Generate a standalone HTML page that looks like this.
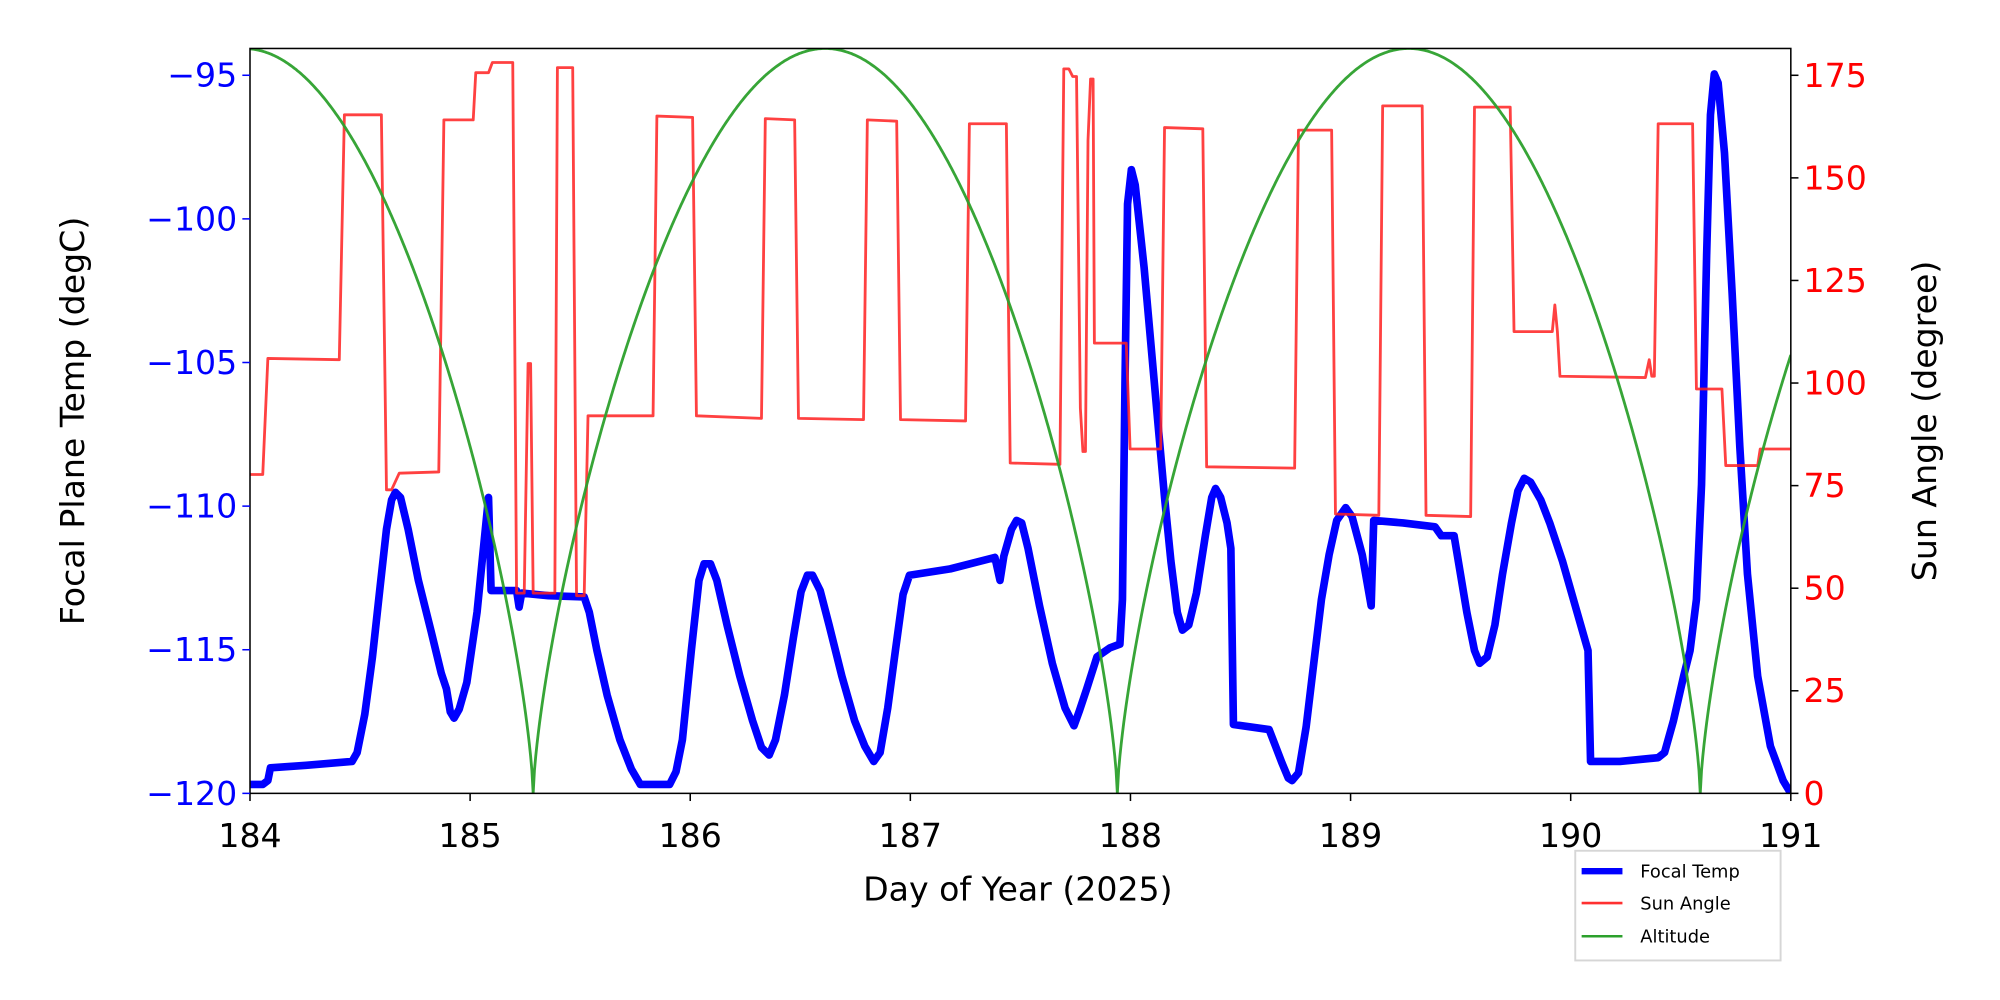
<!DOCTYPE html>
<html><head><meta charset="utf-8"><style>body{margin:0;background:#fff}svg{display:block}</style></head>
<body>
<svg id="s" xmlns="http://www.w3.org/2000/svg" width="2000" height="1000" viewBox="0 0 1568 784" font-family="'DejaVu Sans','Liberation Sans',sans-serif">
<rect width="1568" height="784" fill="#fff"/>
<defs><clipPath id="c"><rect x="196" y="38" width="1208" height="584"/></clipPath></defs>
<g clip-path="url(#c)">
<polyline fill="none" stroke="#0000ff" stroke-width="6" stroke-linejoin="round" stroke-linecap="round" points="196,615 206,615 210,612 212,602 240,600 276,597 280,590 286,560 292,515 298,460 303,415 307,392 310,386 314,390 320,415 328,455 338,495 346,528 350,540 353,558 356,563 360,556 366,535 374,480 380,420 383,390 385,463 405,463 407,476 409,465 430,467 458,468 462,480 468,510 476,545 486,580 495,603 502,615 525,615 530,605 535,580 542,510 548,455 552,442 557,442 562,455 570,490 580,530 590,565 597,586 603,592 608,580 615,545 622,500 628,464 633,451 637,451 643,463 650,490 660,530 670,565 678,585 685,597 690,590 696,555 702,510 708,466 713,451 745,446 780,437 784,455 787,436 793,415 797,408 801,410 806,430 815,475 825,520 835,555 842,569 846,558 852,540 860,515 870,508 878,505 880,470 882,300 884,160 887,133 890,145 897,210 905,300 913,390 918,440 923,480 927,494 932,490 938,465 945,420 950,390 953,383 957,390 962,410 965,430 967,568 995,572 1000,585 1005,598 1010,610 1013,612 1018,606 1024,570 1030,520 1036,470 1042,435 1048,408 1055,398 1060,405 1068,435 1075,475 1077,408 1100,410 1125,413 1130,420 1140,420 1145,450 1150,480 1156,510 1160,520 1166,515 1172,490 1178,450 1185,410 1190,385 1195,375 1200,378 1208,392 1215,410 1225,440 1235,475 1245,510 1247,597 1270,597 1300,594 1305,590 1312,565 1320,530 1325,510 1330,470 1334,380 1338,200 1341,90 1344,58 1347,65 1352,120 1358,230 1364,350 1370,450 1378,530 1388,585 1398,612 1404,622"/>
<polyline fill="none" stroke="#ff2020" stroke-opacity="0.85" stroke-width="2.2" stroke-linejoin="round" points="196,372 206,372 210,281 266,282 270,90 299,90 303,384 307,384 313,371 344,370 348,94 371,94 373,57 383,57 386,49 402,49 405,465 411,465 414,285 416,285 418,465 435,465 437,53 449,53 452,467 458,467 461,326 512,326 515,91 543,92 546,326 597,328 600,93 623,94 626,328 677,329 680,94 703,95 706,329 757,330 760,97 789,97 792,363 831,364 834,54 838,54 841,60 844,60 847,320 849,354 851,354 853,110 855,62 857,62 858,269 883,269 886,352 910,352 913,100 943,101 946,366 1015,367 1018,102 1044,102 1047,403 1081,404 1084,83 1115,83 1118,404 1153,405 1156,84 1184,84 1187,260 1217,260 1219,239 1221,260 1223,295 1290,296 1293,282 1295,295 1297,295 1300,97 1327,97 1330,305 1350,305 1353,365 1378,365 1380,352 1404,352"/>
<path id="g" fill="none" stroke="#2ca02c" stroke-width="2.2" stroke-opacity="0.95" d=""/>
</g>
<rect x="196" y="38" width="1208" height="584" fill="none" stroke="#000" stroke-width="1.2"/>
<g stroke="#000" stroke-width="1.2" id="xt"></g>
<g font-size="26" text-anchor="middle" fill="#000" id="xl"></g>
<g stroke="#0000ff" stroke-width="1.2" id="lt"></g>
<g font-size="26" text-anchor="end" fill="#0000ff" id="ll"></g>
<g stroke="#000" stroke-width="1.2" id="rt"></g>
<g font-size="26" text-anchor="start" fill="#ff0000" id="rl"></g>
<text x="798" y="706" font-size="26" text-anchor="middle">Day of Year (2025)</text>
<text transform="translate(66,330) rotate(-90)" font-size="26" text-anchor="middle">Focal Plane Temp (degC)</text>
<text transform="translate(1518,330) rotate(-90)" font-size="26" text-anchor="middle">Sun Angle (degree)</text>
<rect x="1235" y="667" width="161" height="86" fill="#fff" stroke="#d6d6d6" stroke-width="1.5"/>
<line x1="1240" y1="683" x2="1272" y2="683" stroke="#0000ff" stroke-width="5"/>
<line x1="1240" y1="708" x2="1272" y2="708" stroke="#ff3030" stroke-width="2"/>
<line x1="1240" y1="734" x2="1272" y2="734" stroke="#2ca02c" stroke-width="2"/>
<g font-size="14" fill="#000"><text x="1286" y="688">Focal Temp</text><text x="1286" y="713">Sun Angle</text><text x="1286" y="739">Altitude</text></g>
</svg>
<script>
var NS="http://www.w3.org/2000/svg";
function el(p,t,a,txt){var e=document.createElementNS(NS,t);for(var k in a)e.setAttribute(k,a[k]);if(txt!=null)e.textContent=txt;document.getElementById(p).appendChild(e);}
for(var d=184;d<=191;d++){var x=196+(d-184)*172.57;el("xt","line",{x1:x,y1:622,x2:x,y2:628});el("xl","text",{x:x,y:664},d);}
for(var v=-120;v<=-95;v+=5){var y=622-(v+120)*22.52;el("lt","line",{x1:190,y1:y,x2:196,y2:y});el("ll","text",{x:186,y:y+9},"\u2212"+(-v));}
for(var v=0;v<=175;v+=25){var y=622-v*3.217;el("rt","line",{x1:1404,y1:y,x2:1410,y2:y});el("rl","text",{x:1414,y:y+9},v);}
var tr=[-36,418,876,1333,1790],d="";
for(var x=196;x<=1404;x+=1){var i=0;while(!(x>=tr[i]&&x<=tr[i+1]))i++;var s=Math.sin(Math.PI*(x-tr[i])/(tr[i+1]-tr[i]));var y=622-584*Math.pow(Math.max(s,0),0.7);d+=(x==196?"M":"L")+x+","+y.toFixed(1);}
document.getElementById("g").setAttribute("d",d);
</script>
</body></html>
